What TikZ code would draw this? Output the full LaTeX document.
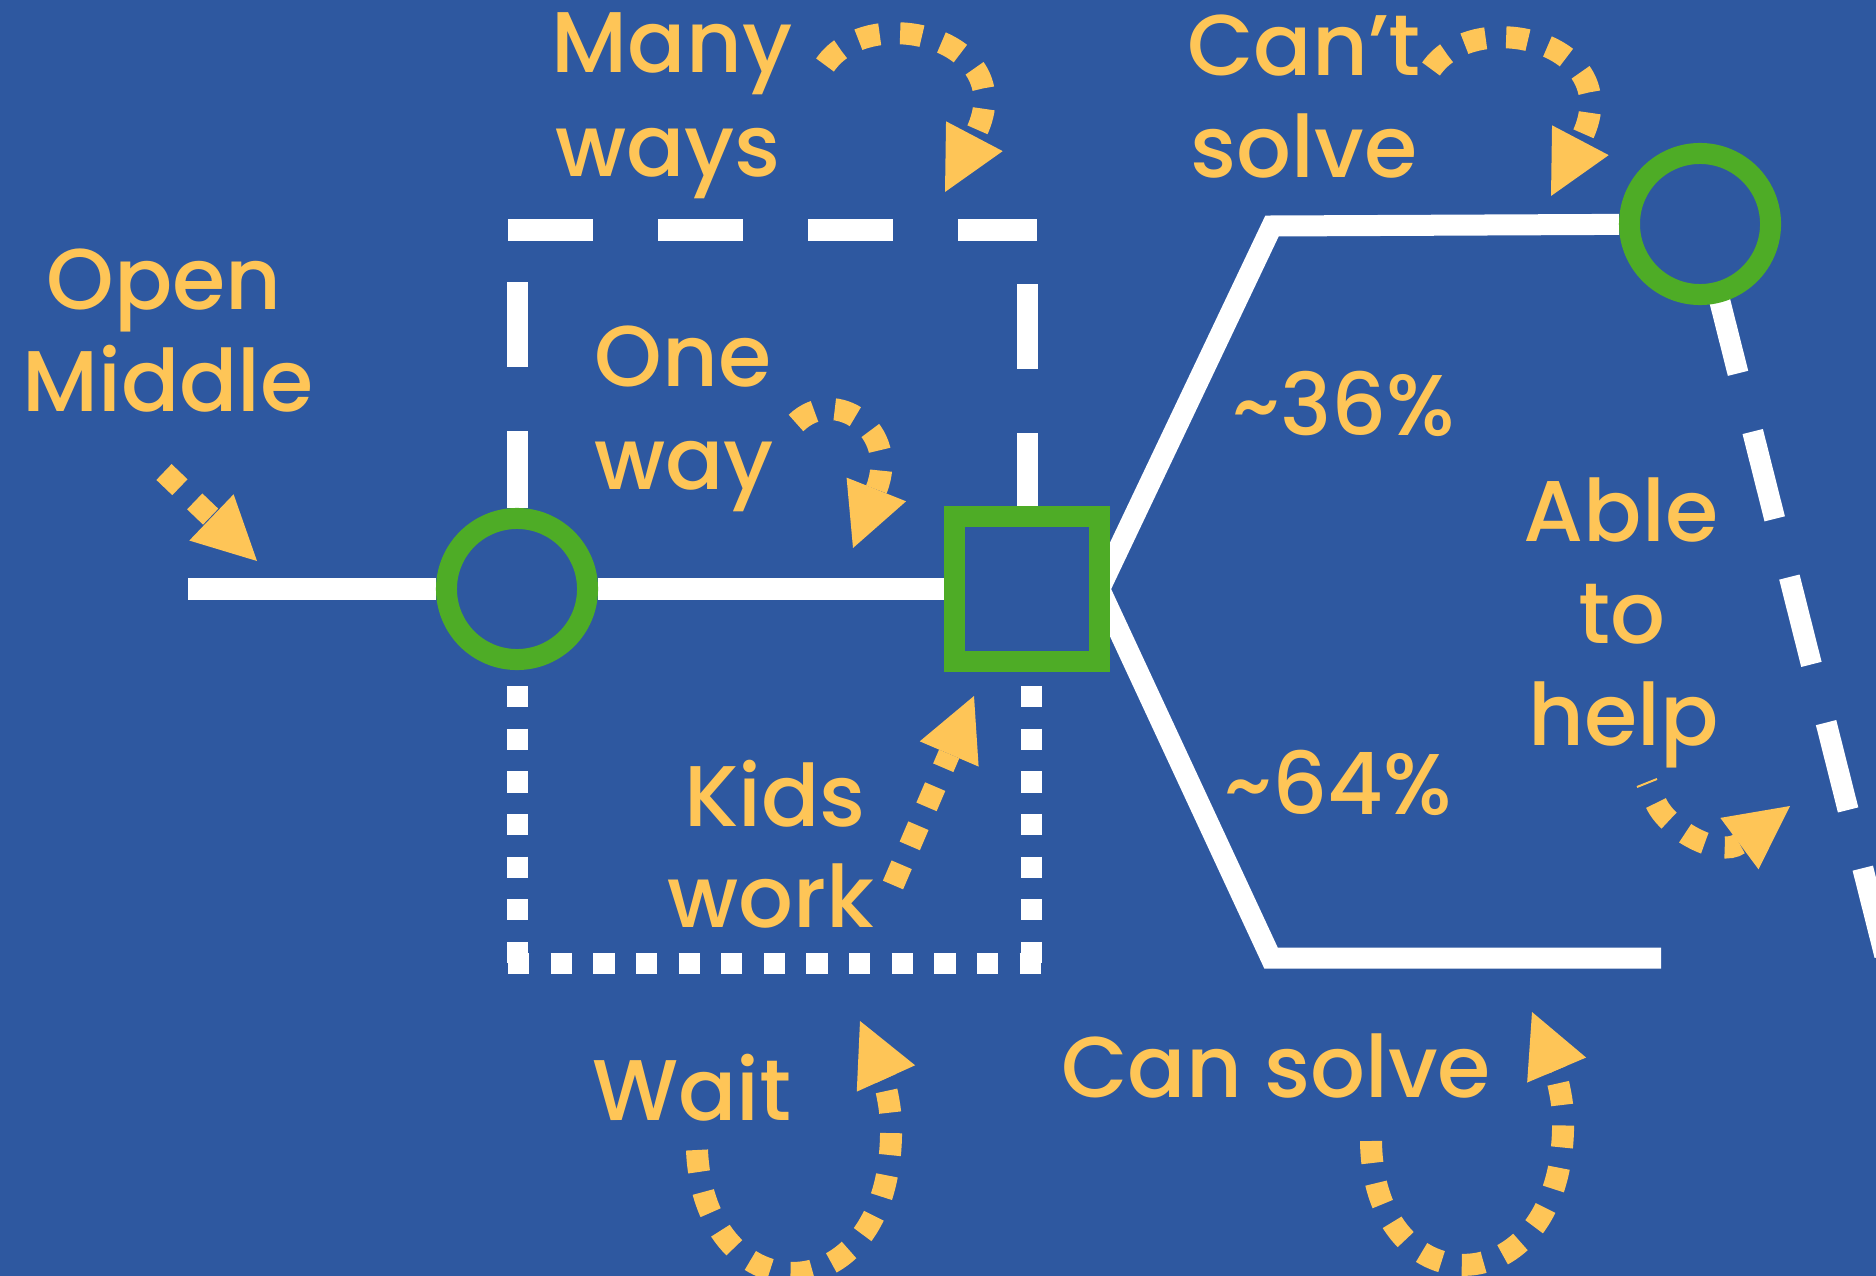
\documentclass[tikz,border=0pt]{standalone}
\usepackage{fontspec}
\setmainfont{Poppins Medium}
\usetikzlibrary{arrows.meta}
\definecolor{bgblue}{RGB}{46,88,160}
\definecolor{ringgreen}{RGB}{78,172,38}
\definecolor{labelyellow}{RGB}{254,197,87}
\pgfdeclarelayer{back}
\pgfdeclarelayer{lines}
\pgfsetlayers{back,lines,main}
\begin{document}
\begin{tikzpicture}[x=0.01cm,y=-0.01cm,
  wline/.style={white, line width=0.21cm},
  dashline/.style={wline, dash pattern=on 0.85cm off 0.65cm},
  dotline/.style={wline, dash pattern=on 0.213cm off 0.213cm},
  ring/.style={draw=ringgreen, line width=0.21cm, circle, minimum size=1.41cm, inner sep=0pt},
  sqbox/.style={draw=ringgreen, line width=0.21cm, rectangle, minimum size=1.44cm, inner sep=0pt},
  lbl/.style={text=labelyellow, font=\fontsize{24.5}{29.6}\selectfont, anchor=base, inner sep=0pt},
  yarrow/.style={draw=labelyellow, line width=0.22cm, dash pattern=on 0.22cm off 0.205cm,
    -{Triangle[width=0.64cm,length=0.63cm,line width=0pt]}},
]
\begin{pgfonlayer}{back}
\fill[bgblue] (0,0) rectangle (1876,1276);
\end{pgfonlayer}
\useasboundingbox (0,0) rectangle (1876,1276);

% nodes
\node[ring] (lc) at (517,589) {};
\node[sqbox] (sq) at (1027,589) {};
\node[ring] (rc) at (1700,224) {};

% coordinates
\coordinate (ml) at (188,589);
\coordinate (ub) at (1272,226);
\coordinate (lb) at (1271,958);
\coordinate (le) at (1661,958);
\coordinate (tl) at (508,230);
\coordinate (tr) at (1037,230);
\coordinate (tlv) at (517,282);
\coordinate (trv) at (1027,284);
\coordinate (blv) at (517,686);
\coordinate (bl) at (517,963);
\coordinate (bl0) at (508,963);
\coordinate (br0) at (1041,963);
\coordinate (brv) at (1031,686);
\coordinate (br) at (1031,963);
\coordinate (rs) at (1716,286);
\coordinate (rd) at (1896,1000);

\begin{pgfonlayer}{lines}
\draw[wline] (ml) -- (lc);
\draw[wline] (lc) -- (sq);
\draw[wline, line join=miter] ([xshift=-0.1cm]sq.east) -- (ub) -- (rc);
\draw[wline, line join=miter] ([xshift=-0.1cm]sq.east) -- (lb) -- (le);
\draw[dashline] (tl) -- (tr);
\draw[wline, dash pattern=on 0.85cm off 0.64cm] (tlv) -- (lc);
\draw[wline, dash pattern=on 0.85cm off 0.64cm] (trv) -- (sq);
\draw[dotline] (blv) -- (bl);
\draw[dotline] (bl0) -- (br0);
\draw[dotline] (brv) -- (br);
\draw[wline, dash pattern=on 0.9cm off 0.6cm] (rs) -- (rd);
\end{pgfonlayer}

% labels
\node[lbl] (tMany) at (672,73) {Many};
\node[lbl] (tWays) at (668,177) {ways};
\node[lbl] (tOpen) at (164,309) {Open};
\node[lbl] (tMiddle) at (168,411) {Middle};
\node[lbl] (tOne) at (683,386) {One};
\node[lbl] (tWay) at (684,489) {way};
\node[lbl] (tCant) at (1304,76) {Can’t};
\node[lbl] (tSolve) at (1304,178) {solve};
\node[lbl] (t36) at (1344,435) {\textasciitilde36\%};
\node[lbl] (tAble) at (1621,541) {Able};
\node[lbl] (tTo) at (1622,643) {to};
\node[lbl] (tHelp) at (1624,745) {help};
\node[lbl] (t64) at (1338,814) {\textasciitilde64\%};
\node[lbl] (tKids) at (775,826) {Kids};
\node[lbl] (tWork) at (771,927) {work};
\node[lbl] (tWait) at (692,1120) {Wait};
\node[lbl] (tCanSolve) at (1276,1097) {Can solve};

% yellow arrows
\coordinate (om0) at (164,472);   \coordinate (om1) at (257,561);
\coordinate (mw0) at (825,65);    \coordinate (mw1) at (945,192);
\coordinate (ow0) at (796,423);   \coordinate (ow1) at (853,548);
\coordinate (cs0) at (1431,69);   \coordinate (cs1) at (1551,196);
\coordinate (kw0) at (893,885);   \coordinate (kw1) at (974,696);
\coordinate (wt0) at (697,1150);  \coordinate (wt1) at (860,1021);
\coordinate (cn0) at (1371,1141); \coordinate (cn1) at (1532,1012);
\coordinate (ah0) at (1656,803);  \coordinate (ah1) at (1790,806);
\coordinate (th0) at (1637,787);  \coordinate (th1) at (1657,779);

\draw[yarrow] (om0) -- (om1);
\draw[yarrow] (mw0) .. controls (870,0) and (1025,40) .. (mw1);
\draw[yarrow] (ow0) .. controls (835,385) and (900,430) .. (ow1);
\draw[yarrow] (cs0) .. controls (1476,4) and (1631,44) .. (cs1);
\draw[yarrow] (kw0) -- (kw1);
\draw[yarrow] (wt0) .. controls (704,1318) and (895,1318) .. (891,1124) .. controls (890,1090) and (874,1052) .. (wt1);
\draw[yarrow] (cn0) .. controls (1373,1312) and (1568,1308) .. (1563,1116) .. controls (1562,1085) and (1546,1045) .. (cn1);
\draw[yarrow] (ah0) .. controls (1668,830) and (1720,858) .. (ah1);
\draw[labelyellow, line width=0.02cm] (th0) -- (th1);
\end{tikzpicture}
\end{document}
